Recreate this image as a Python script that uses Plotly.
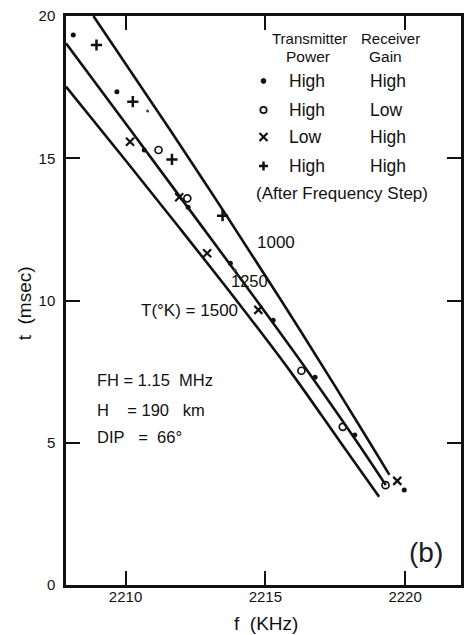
import plotly.graph_objects as go

# ---- model curves (f in kHz vs t in msec), T(°K) = 1000, 1250, 1500 ----
t_1000 = [20.0, 16.0, 13.0, 10.0, 7.0, 5.0, 3.87]
f_1000 = [2208.85, 2211.59, 2213.6, 2215.57, 2217.49, 2218.74, 2219.44]
t_1250 = [19.04, 16.0, 12.5, 10.0, 7.5, 5.0, 3.51]
f_1250 = [2207.87, 2210.17, 2212.81, 2214.69, 2216.53, 2218.3, 2219.31]
t_1500 = [17.52, 15.0, 12.5, 10.0, 7.5, 5.0, 3.1]
f_1500 = [2207.87, 2209.94, 2211.97, 2213.97, 2215.9, 2217.7, 2219.07]

# ---- measured points ----
# Transmitter High / Receiver High
hh_f = [2208.13, 2209.69, 2210.67, 2212.24, 2213.75, 2215.28, 2216.78, 2218.2, 2219.97]
hh_t = [19.33, 17.34, 15.29, 13.28, 11.31, 9.31, 7.30, 5.27, 3.34]
hh_faint_f = [2210.79, 2213.92]
hh_faint_t = [16.66, 11.07]
# High / Low
hl_f = [2211.18, 2212.21, 2216.29, 2217.77, 2219.3]
hl_t = [15.29, 13.59, 7.53, 5.56, 3.51]
# Low / High
lh_f = [2210.16, 2211.92, 2212.92, 2214.75, 2219.72]
lh_t = [15.58, 13.63, 11.66, 9.67, 3.66]
# High / High (after frequency step)
step_f = [2208.96, 2210.26, 2211.66, 2213.47]
step_t = [18.98, 16.99, 14.96, 12.98]

x_ticks = [2210, 2215, 2220]
y_ticks = [0, 5, 10, 15, 20]

FONT = "Liberation Sans, Arial, sans-serif"
INK = "#111111"

W, H = 465, 635
L, R, T, B = 66, 1, 16, 50
PW, PH = W - L - R, H - T - B


def px(x):
    return (x - L) / PW


def py(y):
    return (H - B - y) / PH


fig = go.Figure()
for tt, ff in [(t_1000, f_1000), (t_1250, f_1250), (t_1500, f_1500)]:
    fig.add_trace(go.Scatter(x=ff, y=tt, mode="lines",
                             line=dict(color=INK, width=2.6, shape="spline", smoothing=1.0),
                             hoverinfo="skip", showlegend=False))

fig.add_trace(go.Scatter(x=hh_f, y=hh_t, mode="markers",
                         marker=dict(symbol="circle", size=5, color=INK), showlegend=False))
fig.add_trace(go.Scatter(x=hh_faint_f, y=hh_faint_t, mode="markers",
                         marker=dict(symbol="circle", size=3, color="#444"), showlegend=False))
fig.add_trace(go.Scatter(x=hl_f, y=hl_t, mode="markers",
                         marker=dict(symbol="circle-open", size=7, color=INK, line=dict(width=1.7)),
                         showlegend=False))
fig.add_trace(go.Scatter(x=lh_f, y=lh_t, mode="markers",
                         marker=dict(symbol="x-thin", size=8, color=INK, line=dict(width=2.2, color=INK)),
                         showlegend=False))
fig.add_trace(go.Scatter(x=step_f, y=step_t, mode="markers",
                         marker=dict(symbol="cross-thin", size=8, color=INK, line=dict(width=2.5, color=INK)),
                         showlegend=False))

axis_common = dict(showline=True, linewidth=2.5, linecolor=INK, mirror="allticks",
                   ticks="inside", ticklen=14, tickwidth=1.6, tickcolor=INK,
                   showgrid=False, zeroline=False,
                   tickfont=dict(family=FONT, size=15, color=INK))

fig.update_xaxes(range=[2207.87, 2222.0], tickvals=x_ticks,
                 ticktext=[str(v) for v in x_ticks], ticklabelstandoff=-4, **axis_common)
fig.update_yaxes(range=[0, 20], tickvals=y_ticks,
                 ticktext=[str(v) for v in y_ticks], ticklabelstandoff=5, **axis_common)

ann = []


def text(s, x, y, size, xanchor="left", angle=0, color=INK):
    ann.append(dict(text=s, x=px(x), y=py(y), xref="paper", yref="paper",
                    xanchor=xanchor, yanchor="middle", showarrow=False, borderpad=0,
                    textangle=angle, font=dict(family=FONT, size=size, color=color)))


# legend header
text("Transmitter", 311, 38.5, 15, "center")
text("Receiver", 393, 38.5, 15, "center")
text("Power", 310, 56.5, 15.5, "center")
text("Gain", 388, 56.5, 15.5, "center")
rows = [("High", "High", 81), ("High", "Low", 110), ("Low", "High", 137), ("High", "High", 166)]
for a, b, yy in rows:
    text(a, 290, yy, 17.5)
    text(b, 371, yy, 17.5)
text("(After Frequency Step)", 256, 193, 17)

# curve labels
text("1000", 257, 242, 17)
text("1250", 231, 281, 16.5)
text("T(°K) = 1500", 240, 310, 17, "right")

# parameters
text("FH = 1.15&nbsp;&nbsp;MHz", 96, 380, 16.5)
text("H&nbsp;&nbsp;&nbsp;&nbsp;=&nbsp;190&nbsp;&nbsp;&nbsp;km", 96, 409.5, 16.5)
text("DIP&nbsp;&nbsp;&nbsp;=&nbsp;&nbsp;66°", 96, 437.5, 16.5)

text("(b)", 429, 552, 28, "center", color="#1c1c28")

# axis titles
text("f&nbsp;&nbsp;(KHz)", 268, 623, 19, "center")
text("t&nbsp;&nbsp;(msec)", 24, 303, 19, "center", angle=-90)

# legend key glyphs
shapes = []
kx = px(265)


def key(path=None, r=None, yy=0, fill=True, width=1.6):
    base = dict(xref="paper", yref="paper", xsizemode="pixel", ysizemode="pixel",
                xanchor=kx, yanchor=py(yy), line=dict(color=INK, width=width))
    if path is not None:
        base.update(type="path", path=path)
    else:
        base.update(type="circle", x0=-r, x1=r, y0=-r, y1=r,
                    fillcolor=INK if fill else "rgba(0,0,0,0)")
    shapes.append(base)


key(r=2.4, yy=81, fill=True, width=1)
key(r=3.2, yy=110, fill=False, width=1.7)
key(path="M-4,-4L4,4M-4,4L4,-4", yy=137, width=2.2)
key(path="M-4.5,0L4.5,0M0,-4.5L0,4.5", yy=166, width=2.5)

fig.update_layout(width=W, height=H, margin=dict(l=L, r=R, t=T, b=B),
                  paper_bgcolor="white", plot_bgcolor="white",
                  annotations=ann, shapes=shapes, showlegend=False,
                  font=dict(family=FONT, color=INK))

fig.write_html("out.html")
